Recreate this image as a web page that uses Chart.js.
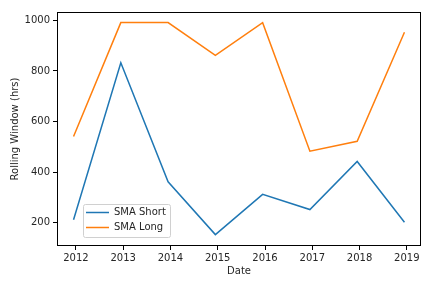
<!DOCTYPE html>
<html>
<head>
<meta charset="utf-8">
<script src="https://cdn.jsdelivr.net/npm/chart.js@4"></script>
<style>
  html, body { margin: 0; padding: 0; background: #fff; }
  #wrap { width: 432px; height: 288px; }
</style>
</head>
<body>
<div id="wrap"><canvas id="myChart" width="432" height="288"></canvas></div>
<script>
// dates as decimal years (points sit a little before the new year)
const dates = [2011.95, 2012.95, 2013.95, 2014.95, 2015.95, 2016.95, 2017.95, 2018.95]
const smaShort = [212, 832, 362, 153, 312, 252, 442, 202]
const smaLong = [541, 991, 991, 862, 991, 483, 522, 953]
const yearTicks = [2012, 2013, 2014, 2015, 2016, 2017, 2018, 2019]
const valueTicks = [200, 400, 600, 800, 1000]

const FONT = 'DejaVu Sans'

function toPoints(vals) {
    return vals.map((v, i) => ({ x: dates[i], y: v }))
}

// box around plot area + legend inside lower left
const boxAndLegend = {
    id: 'boxAndLegend',
    afterDraw(chart) {
        const ctx = chart.ctx
        const a = chart.chartArea
        ctx.save()
        ctx.strokeStyle = '#000'
        ctx.lineWidth = 1
        ctx.strokeRect(Math.round(a.left) + 0.5, Math.round(a.top) + 0.5,
            Math.round(a.right - a.left) - 1, Math.round(a.bottom - a.top) - 1)

        // legend
        const lx = 83, ly = 204, lw = 87, lh = 33
        ctx.fillStyle = 'rgba(255,255,255,0.8)'
        ctx.strokeStyle = '#d0d0d0'
        ctx.lineWidth = 1
        ctx.beginPath()
        ctx.roundRect(lx + 0.5, ly + 0.5, lw, lh, 2)
        ctx.fill()
        ctx.stroke()
        ctx.font = '10px ' + FONT
        ctx.textBaseline = 'middle'
        ctx.textAlign = 'left'
        chart.data.datasets.forEach((ds, i) => {
            const y = ly + 8.5 + i * 15
            ctx.strokeStyle = ds.borderColor
            ctx.lineWidth = 1.5
            ctx.beginPath()
            ctx.moveTo(lx + 3, y)
            ctx.lineTo(lx + 26, y)
            ctx.stroke()
            ctx.fillStyle = '#262626'
            ctx.fillText(ds.label, lx + 31, y)
        })
        ctx.restore()
    }
}

const data = {
    datasets: [{
        label: 'SMA Short',
        data: toPoints(smaShort),
        borderColor: '#1f77b4',
        backgroundColor: '#1f77b4',
        borderWidth: 1.5,
        pointRadius: 0,
        tension: 0
    }, {
        label: 'SMA Long',
        data: toPoints(smaLong),
        borderColor: '#ff7f0e',
        backgroundColor: '#ff7f0e',
        borderWidth: 1.5,
        pointRadius: 0,
        tension: 0
    }]
}

const config = {
    type: 'line',
    data: data,
    plugins: [boxAndLegend],
    options: {
        responsive: false,
        animation: false,
        layout: { padding: { top: 12, right: 11, left: 0, bottom: 0 } },
        plugins: {
            legend: { display: false },
            tooltip: { enabled: false }
        },
        scales: {
            x: {
                type: 'linear',
                min: 2011.6,
                max: 2019.3,
                afterBuildTicks(scale) {
                    scale.ticks = yearTicks.map(v => ({ value: v }))
                },
                afterFit(scale) { scale.height = 42 },
                ticks: {
                    color: '#262626',
                    font: { family: FONT, size: 10 },
                    padding: 2,
                    maxRotation: 0,
                    callback: v => String(v)
                },
                grid: { display: true, drawOnChartArea: false, drawTicks: true, tickLength: 4, color: '#000', lineWidth: 1 },
                border: { display: false },
                title: {
                    display: true,
                    text: 'Date',
                    color: '#262626',
                    font: { family: FONT, size: 10 },
                    padding: { top: 0, bottom: 11 }
                }
            },
            y: {
                min: 108,
                max: 1033,
                afterBuildTicks(scale) {
                    scale.ticks = valueTicks.map(v => ({ value: v }))
                },
                afterFit(scale) { scale.width = 57 },
                ticks: {
                    color: '#262626',
                    font: { family: FONT, size: 10 },
                    padding: 3,
                    callback: v => String(v)
                },
                grid: { display: true, drawOnChartArea: false, drawTicks: true, tickLength: 4, color: '#000', lineWidth: 1 },
                border: { display: false },
                title: {
                    display: true,
                    text: 'Rolling Window (hrs)',
                    color: '#262626',
                    font: { family: FONT, size: 10 },
                    padding: { top: 9, bottom: 0 }
                }
            }
        }
    }
}

let myChart = new Chart(document.getElementById('myChart'), config)
</script>
</body>
</html>
